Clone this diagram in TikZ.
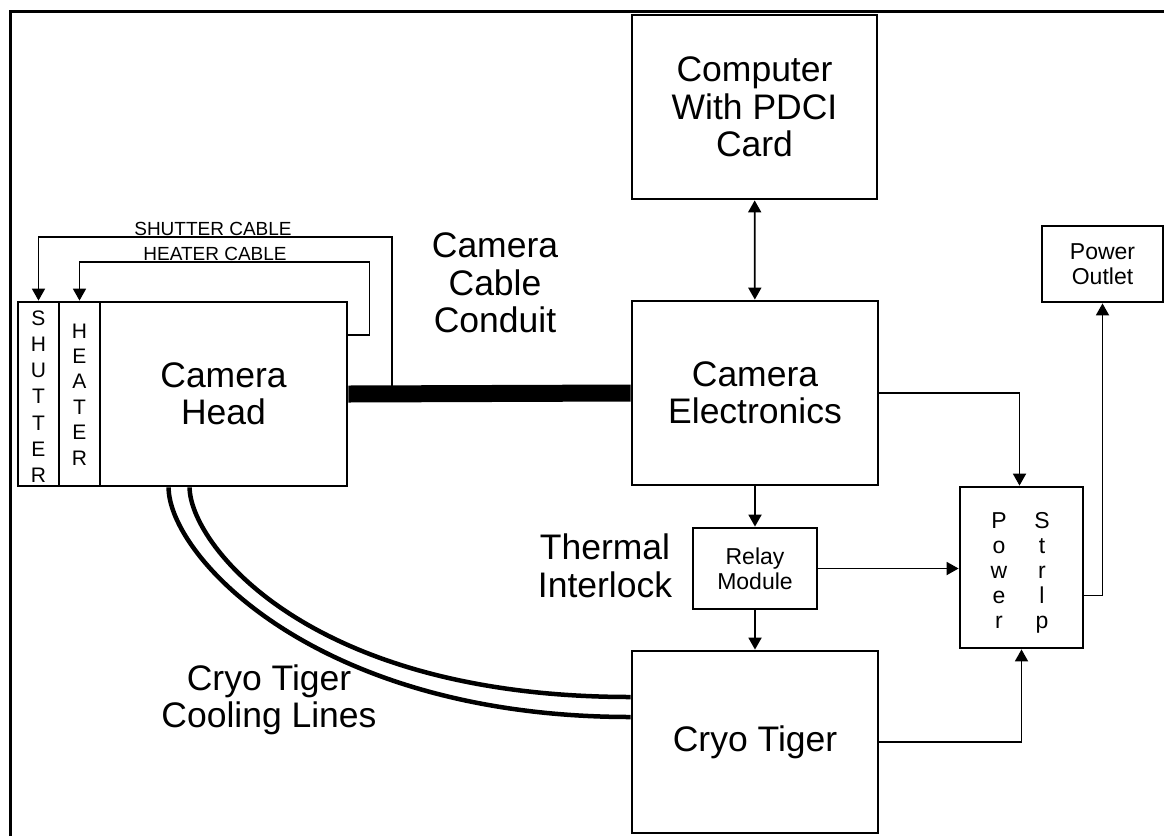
\documentclass[tikz,border=0pt]{standalone}
\usepackage{fontspec}
\setmainfont{Liberation Sans}
\usetikzlibrary{arrows.meta}

\begin{document}
\begin{tikzpicture}[x=1pt, y=-1pt, >={Triangle[length=12pt,width=13pt]},
		box/.style={draw, line width=2.8pt, inner sep=0pt, align=center},
		big/.style={font=\fontsize{35.5}{37.5}\selectfont, align=center},
		small/.style={font=\fontsize{23}{25}\selectfont, align=center},
		letter/.style={font=\fontsize{21}{22}\selectfont, anchor=base, inner sep=0pt},
		lbl/.style={font=\fontsize{19}{20}\selectfont, anchor=south, inner sep=2pt},
		wire/.style={line width=1.8pt}]
		\useasboundingbox (0,0) rectangle (1164,836);
		\draw[line width=3pt] (10,836) -- (10,11) -- (1164,11);

		% blocks
		\node[box, minimum width=41pt, minimum height=184pt] (shut) at (38.5,394) {};
		\node[box, minimum width=41pt, minimum height=184pt] (heat) at (79.5,394) {};
		\node[box, big, minimum width=247pt, minimum height=184pt] (head) at (223.5,394) {Camera\\Head};
		\node[box, big, minimum width=245pt, minimum height=184pt] (comp) at (754.5,107) {Computer\\With PDCI\\Card};
		\node[box, big, minimum width=246pt, minimum height=184pt] (elec) at (755,393) {Camera\\Electronics};
		\node[box, small, minimum width=124pt, minimum height=81pt] (relay) at (755,568.5) {Relay\\Module};
		\node[box, big, minimum width=246pt, minimum height=182pt] (cryo) at (755,742) {Cryo Tiger};
		\node[box, minimum width=123pt, minimum height=161pt] (strip) at (1021.5,567.5) {};
		\node[box, small, minimum width=121pt, minimum height=76pt] (outlet) at (1102.5,264) {Power\\Outlet};

		% vertical writing
		\foreach \c [count=\i from 0] in {S,H,U,T,T,E,R} {
				\node[letter] (sh\i) at (38.5,{325+26.3*\i}) {\c};
			}
		\foreach \c [count=\i from 0] in {H,E,A,T,E,R} {
				\node[letter] (ht\i) at (79.5,{338+25.4*\i}) {\c};
			}
		\foreach \c/\d [count=\i from 0] in {P/S,o/t,w/r,e/l,r/p} {
				\node[letter, small] (pw\i) at (999,{528+25*\i}) {\c};
				\node[letter, small] (st\i) at (1042,{528+25*\i}) {\d};
			}

		% labels
		\node[big] (conduit) at (495,283) {Camera\\Cable\\Conduit};
		\node[big] (interlock) at (605,566) {Thermal\\Interlock};
		\node[big] (lines) at (269,700) {Cryo Tiger\\Cooling Lines};
		\node[lbl] (shutlbl) at (213,238) {SHUTTER CABLE};
		\node[lbl] (heatlbl) at (215,263) {HEATER CABLE};

		% conduit and cables
		\draw[line width=17pt] (head.east) -- (elec.west);
		\coordinate (tap) at (392,393);
		\draw[wire, ->] (tap) |- ([yshift=64pt]shut.north) -- (shut.north);
		\draw[wire, ->] ([yshift=59pt]head.east) -- ++(21,0) |- ([yshift=39pt]heat.north) -- (heat.north);

		% cooling lines
		\coordinate (out0) at ([xshift=70pt]head.south west);
		\coordinate (in0) at ([xshift=91pt]head.south west);
		\draw[line width=4.5pt] (out0) .. controls +(0,68) and +(-315,0) .. ([yshift=25pt]cryo.west);
		\draw[line width=4.5pt] (in0) .. controls +(0,55) and +(-325,0) .. ([yshift=45pt]cryo.west);

		% signal and power
		\draw[wire, <->] (comp) -- (elec);
		\draw[wire, ->] (elec) -- (relay);
		\draw[wire, ->] (relay) -- (cryo);
		\draw[wire, ->] (relay.east) -- (relay.east -| strip.west);
		\draw[wire, ->] (elec.east) -| ([xshift=-2pt]strip.north);
		\draw[wire, ->] (cryo.east) -| (strip.south);
		\draw[wire, ->] ([yshift=-28pt]strip.east) -| (outlet.south);
	\end{tikzpicture}
\end{document}
